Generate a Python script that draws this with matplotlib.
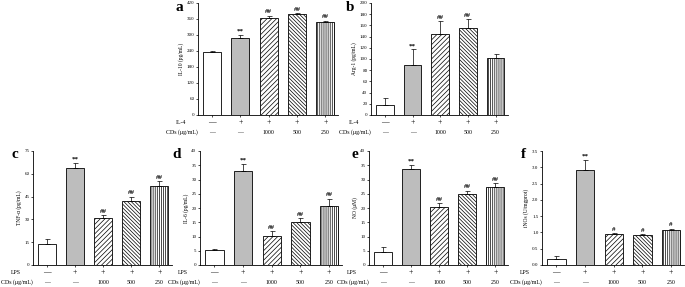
import matplotlib.pyplot as plt
import numpy as np

plt.rcParams['font.family'] = ['Liberation Serif', 'DejaVu Serif']
plt.rcParams['hatch.linewidth'] = 0.5

# Data
il10 = [235, 289, 363, 378, 350]
il10_err = [6, 12, 10, 5, 4]
arg1 = [17, 89, 145, 156, 101]
arg1_err = [13, 28, 22, 15, 8]
tnf = [14, 64, 31, 42, 52]
tnf_err = [3, 3, 2, 3, 3]
il6 = [5.3, 33, 10.3, 15, 20.8]
il6_err = [0.3, 2.5, 1.5, 1.5, 2.5]
no = [4.4, 33.8, 20.3, 24.8, 27.2]
no_err = [2, 1.3, 1.3, 1.3, 1.5]
inos = [0.17, 2.93, 0.95, 0.93, 1.08]
inos_err = [0.1, 0.3, 0.04, 0.03, 0.04]

stim_row = ['—', '+', '+', '+', '+']
cds_row = ['—', '—', '1000', '500', '250']

panels = [
    # letter, values, errors, ylabel, ymax, ystep, fmt, marks, stimulus
    ('a', il10, il10_err, 'IL-10 (pg/mL)', 420, 60, '%d', ['', '**', '##', '##', '##'], 'IL-4'),
    ('b', arg1, arg1_err, 'Arg-1 (pg/mL)', 200, 20, '%d', ['', '**', '##', '##', ''], 'IL-4'),
    ('c', tnf, tnf_err, 'TNF-α (pg/mL)', 75, 15, '%d', ['', '**', '##', '##', '##'], 'LPS'),
    ('d', il6, il6_err, 'IL-6 (pg/mL)', 40, 5, '%d', ['', '**', '##', '##', '##'], 'LPS'),
    ('e', no, no_err, 'NO (μM)', 40, 5, '%d', ['', '**', '##', '##', '##'], 'LPS'),
    ('f', inos, inos_err, 'iNOs (U/mgprot)', 3.5, 0.5, '%.1f', ['', '**', '#', '#', '#'], 'LPS'),
]

# axes boxes in pixels: left, right, top, bottom ; letter x, letter y
W, H = 685, 287
boxes = [
    (198, 338, 3, 115, 176, 1),
    (371, 508, 3, 115, 346, 1),
    (33, 172, 151, 265, 11, 148),
    (200, 342, 151, 265, 172, 148),
    (369, 508, 151, 265, 351, 148),
    (542, 684, 151, 265, 521, 148),
]

faces = ['white', '#bdbdbd', 'white', 'white', 'white']
hatches = ['', '', '///////', '\\\\\\\\\\\\\\\\\\', '||||||||']

fig = plt.figure(figsize=(W / 100, H / 100), dpi=100)
x = np.arange(5)

for (letter, vals, errs, ylab, ymax, ystep, fmt, marks, stim), box in zip(panels, boxes):
    l, r, t, b, lx, ly = box
    ax = fig.add_axes([l / W, 1 - b / H, (r - l) / W, (b - t) / H])
    ax.bar(x, vals, 0.64, color=faces, edgecolor='black', linewidth=0.6,
           hatch=hatches, zorder=2)
    ax.errorbar(x, vals, yerr=[np.zeros(5), errs], fmt='none', ecolor='black',
                elinewidth=0.5, capsize=1.8, capthick=0.5, zorder=3)
    for xi, v, e, m in zip(x, vals, errs, marks):
        if m:
            ax.text(xi, v + e + ymax * 0.01, m, ha='center', va='bottom',
                    fontsize=5, fontweight='bold')
    ax.set_xlim(-0.5, 4.45)
    ax.set_ylim(0, ymax)
    ax.set_yticks(np.arange(0, ymax + ystep / 2, ystep))
    ax.yaxis.set_major_formatter(plt.FormatStrFormatter(fmt))
    ax.set_xticks(x)
    ax.set_xticklabels([])
    ax.tick_params(axis='both', length=1.5, width=0.5, labelsize=3.6, pad=1)
    for s in ['top', 'right']:
        ax.spines[s].set_visible(False)
    for s in ['left', 'bottom']:
        ax.spines[s].set_linewidth(0.6)
    ax.set_ylabel(ylab, fontsize=4, labelpad=2)

    tr = ax.get_xaxis_transform()
    h = b - t
    y1 = -7 / h
    y2 = -17.5 / h
    for xi, s1, s2 in zip(x, stim_row, cds_row):
        ax.text(xi, y1, s1, transform=tr, ha='center', va='center', fontsize=5.5)
        ax.text(xi, y2, s2, transform=tr, ha='center', va='center', fontsize=4.2)
    ax.text(-12 / (r - l), y1, stim, transform=ax.transAxes, ha='right',
            va='center', fontsize=4.2)
    ax.text(0, y2, 'CDs (μg/mL)', transform=ax.transAxes, ha='right',
            va='center', fontsize=4.2)
    fig.text(lx / W, 1 - ly / H, letter, ha='left', va='top', fontsize=11,
             fontweight='bold')

fig.savefig('out.png', dpi=100)
